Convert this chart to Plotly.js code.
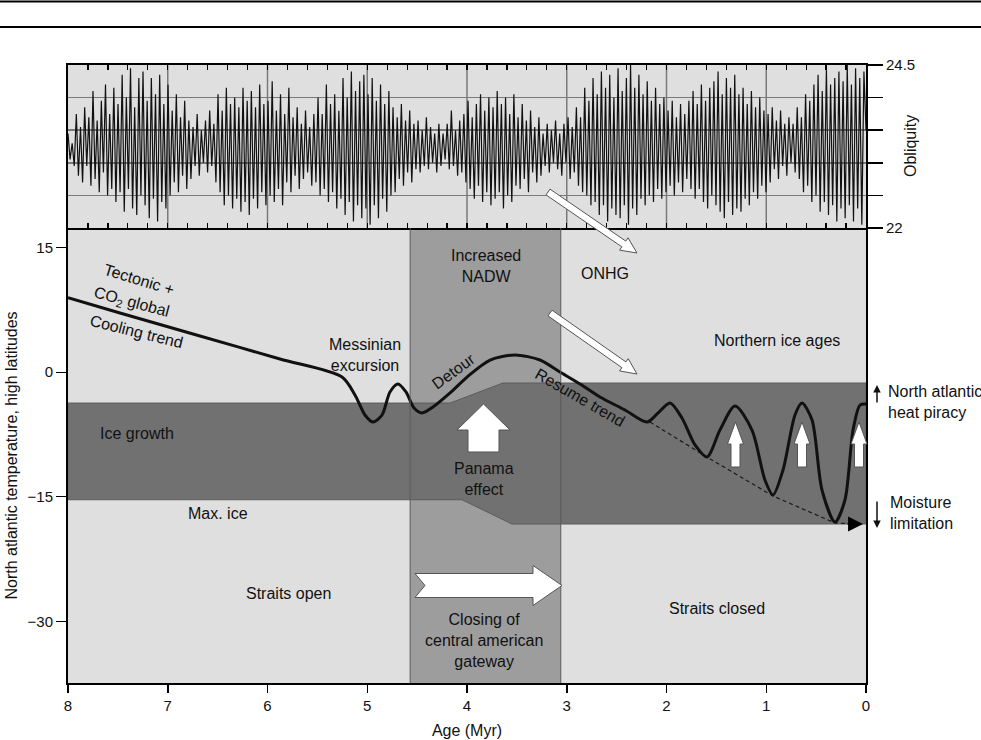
<!DOCTYPE html>
<html><head><meta charset="utf-8">
<script src="https://cdn.plot.ly/plotly-3.0.1.min.js"></script>
<style>html,body{margin:0;padding:0;background:#fff}#chart{width:981px;height:740px}</style>
</head><body><div id="chart"></div>
<script>
// ---------------- data ----------------
const ageTicks = [8,7,6,5,4,3,2,1,0];
const ageGrid = [7,6,5,4,3,2,1];
const tempTicks = [-30,-15,0,15];
const tempTickText = ['\u221230','\u221215','0','15'];
const obliqTicks = [22,22.5,23,23.5,24,24.5];
const obliqTickText = ['22','','','','','24.5'];
const obliqInnerTicks = [22.5,23,23.5,24];

// North Atlantic high-latitude temperature path (age in Myr)
const curveAge = [8.000,7.479,6.677,5.875,5.253,5.123,5.023,4.942,4.852,4.772,4.692,4.612,4.531,4.451,4.341,4.170,4.000,3.769,3.519,3.268,3.068,2.867,2.667,2.416,2.195,2.085,1.965,1.845,1.714,1.594,1.464,1.313,1.143,1.013,0.932,0.832,0.712,0.642,0.541,0.441,0.311,0.211,0.130,0.060,0.000];
const curveTemp = [8.96,7.13,4.36,1.59,-0.58,-2.74,-5.15,-6.00,-5.15,-2.38,-1.42,-2.38,-4.31,-4.91,-4.19,-2.50,-0.58,1.47,2.07,1.47,0.02,-1.42,-2.99,-4.55,-6.00,-4.91,-3.71,-5.51,-8.76,-10.21,-6.96,-4.07,-6.96,-12.98,-14.78,-11.77,-5.15,-3.71,-5.75,-14.18,-18.03,-15.38,-6.96,-3.95,-3.83];

// continued cooling trend (dashed)
const trendAge = [2.165,1.594,0.932,0.311,0.080];
const trendTemp = [-6.00,-10.21,-14.90,-18.15,-18.27];

// ice growth band (polygon)
const iceBandAge = [8, 4.17, 3.64, 0, 0, 3.55, 4.05, 8, 8];
const iceBandTemp = [-3.71, -3.71, -1.30, -1.30, -18.27, -18.27, -15.35, -15.35, -3.71];

// closing of central american gateway
const gatewayAge = [4.57, 3.06];

// obliquity: successive maxima / minima, 8 Myr -> 0 Myr
const obliquity = [
23.45,23.05,23.30,22.95,23.75,22.80,23.55,22.70,23.85,22.95,23.70,22.65,
24.10,22.75,23.65,22.55,23.95,22.85,24.20,22.50,23.75,22.60,24.15,22.40,
23.90,22.55,24.35,22.25,24.00,22.60,24.45,22.30,23.85,22.20,24.30,22.50,
24.40,22.35,23.95,22.15,24.30,22.45,24.05,22.10,24.35,22.40,23.90,22.30,
24.20,22.50,23.80,22.70,24.05,22.55,23.70,22.80,23.95,22.60,23.65,22.75,
23.55,22.95,23.75,22.80,23.50,23.00,23.65,22.85,23.80,22.95,23.60,22.70,
24.05,22.55,23.80,22.35,24.15,22.50,23.90,22.30,24.00,22.45,23.85,22.25,
24.15,22.40,23.95,22.20,24.10,22.45,23.85,22.30,24.20,22.55,23.90,22.35,
23.95,22.50,24.25,22.40,23.80,22.60,24.05,22.35,23.75,22.70,24.15,22.55,
23.70,22.80,23.85,22.60,23.60,22.75,23.80,22.85,23.55,22.65,23.75,22.70,
24.00,22.50,23.75,22.60,24.20,22.40,23.90,22.55,24.05,22.30,23.80,22.45,
24.30,22.20,24.00,22.40,24.40,22.10,24.10,22.35,24.25,22.15,24.35,22.30,
24.05,22.05,24.30,22.35,23.95,22.15,24.20,22.45,23.90,22.25,24.10,22.50,
23.85,22.55,23.70,22.75,23.90,22.65,23.65,22.85,23.80,22.70,23.60,22.90,
23.65,22.85,23.50,22.95,23.70,22.90,23.55,23.00,23.45,22.85,23.60,22.95,
23.45,23.05,23.60,22.90,23.80,22.95,23.50,22.80,23.65,22.85,23.75,22.70,
23.95,22.60,23.70,22.45,23.90,22.65,24.05,22.40,23.80,22.55,24.00,22.35,
23.85,22.45,24.10,22.55,23.90,22.30,24.00,22.50,23.75,22.40,24.05,22.65,
23.70,22.60,23.90,22.75,23.65,22.55,23.80,22.85,23.55,22.70,23.70,22.80,
23.45,22.95,23.60,22.85,23.50,23.00,23.65,22.90,23.45,22.80,23.60,23.00,
23.70,22.75,23.55,22.85,23.85,22.65,23.70,22.55,24.15,22.50,23.95,22.35,
24.30,22.40,24.05,22.20,24.40,22.35,24.15,22.10,24.35,22.30,24.00,22.20,
24.45,22.15,24.10,22.35,24.30,22.05,24.50,22.30,24.15,22.20,24.35,22.45,
24.05,22.35,24.25,22.50,23.95,22.40,24.15,22.60,23.90,22.45,24.00,22.55,
23.80,22.65,23.95,22.50,23.70,22.70,23.90,22.55,23.75,22.75,23.95,22.60,
24.10,22.45,23.90,22.60,24.20,22.40,23.95,22.30,24.15,22.50,24.25,22.35,
24.40,22.25,24.05,22.15,24.30,22.40,24.15,22.20,24.35,22.30,24.05,22.25,
24.15,22.45,23.90,22.35,24.10,22.55,23.85,22.45,24.00,22.65,23.80,22.55,
23.75,22.70,23.85,22.90,23.65,22.75,23.80,22.95,23.60,22.80,23.70,23.00,
23.60,22.85,23.85,22.75,23.70,22.55,24.05,22.65,23.95,22.40,24.20,22.50,
24.35,22.25,24.10,22.40,24.45,22.20,24.20,22.35,24.30,22.10,24.40,22.30,
24.25,22.15,24.50,22.35,24.20,22.10,24.45,22.30,24.30,22.05,24.40,23.50
];
// sampling grid of the obliquity record: evenly spaced ages from 8 to 0 Myr
const obliqAge = obliquity.map((_, i) => 8 - 8 * i / (obliquity.length - 1));

// ---------------- layout helpers ----------------
const W = 981, H = 740, L = 68, R = 866, T = 65, B = 683;
const SPLIT = (228 - T) / (B - T);
const px = x => (x - L) / (R - L);
const py = y => (B - y) / (B - T);
const FONT = 'Liberation Sans, Arial, Helvetica, sans-serif';

function arrowPath(tail, tip, sh, hh, hl, notch) {
  const dx = tip[0] - tail[0], dy = tip[1] - tail[1];
  const len = Math.hypot(dx, dy), ux = dx / len, uy = dy / len, nx = -uy, ny = ux;
  const bx = tip[0] - ux * hl, by = tip[1] - uy * hl;
  const pts = [
    [tail[0] + nx * sh, tail[1] + ny * sh],
    [bx + nx * sh, by + ny * sh],
    [bx + nx * hh, by + ny * hh],
    tip,
    [bx - nx * hh, by - ny * hh],
    [bx - nx * sh, by - ny * sh],
    [tail[0] - nx * sh, tail[1] - ny * sh]];
  if (notch) pts.push([tail[0] + ux * notch, tail[1] + uy * notch]);
  return 'M' + pts.map(p => px(p[0]).toFixed(5) + ',' + py(p[1]).toFixed(5)).join('L') + 'Z';
}
const whiteArrow = d => ({type: 'path', xref: 'paper', yref: 'paper', path: d,
  fillcolor: '#ffffff', line: {color: '#555', width: 1}, layer: 'above'});

// ---------------- traces ----------------
const traces = [
  {x: obliqAge, y: obliquity, xaxis: 'x2', yaxis: 'y2', type: 'scatter', mode: 'lines',
   line: {color: '#111', width: 1.2}, hoverinfo: 'skip', showlegend: false},
  {x: iceBandAge, y: iceBandTemp, xaxis: 'x', yaxis: 'y', type: 'scatter', mode: 'lines',
   fill: 'toself', fillcolor: '#717171', line: {color: '#5c5c5c', width: 1}, hoverinfo: 'skip', showlegend: false},
  {x: trendAge, y: trendTemp, xaxis: 'x', yaxis: 'y', type: 'scatter', mode: 'lines',
   line: {color: '#1a1a1a', width: 1.2, dash: '4px,3px'}, hoverinfo: 'skip', showlegend: false},
  {x: curveAge, y: curveTemp, xaxis: 'x', yaxis: 'y', type: 'scatter', mode: 'lines',
   line: {color: '#111', width: 3, shape: 'spline', smoothing: 0.8}, hoverinfo: 'skip', showlegend: false}
];

// ---------------- shapes ----------------
const shapes = [
  {type: 'rect', xref: 'x', yref: 'y domain', x0: gatewayAge[0], x1: gatewayAge[1], y0: 0, y1: 1,
   fillcolor: '#9d9d9d', line: {width: 0}, layer: 'below'},
  {type: 'line', xref: 'x', yref: 'y domain', x0: gatewayAge[0], x1: gatewayAge[0], y0: 0, y1: 1,
   line: {color: '#5a5a5a', width: 1}, layer: 'above'},
  {type: 'line', xref: 'x', yref: 'y domain', x0: gatewayAge[1], x1: gatewayAge[1], y0: 0, y1: 1,
   line: {color: '#5a5a5a', width: 1}, layer: 'above'},
  // page header rules
  {type: 'line', xref: 'paper', yref: 'paper', x0: px(0), x1: px(W), y0: py(1.5), y1: py(1.5), line: {color: '#000', width: 2}},
  {type: 'line', xref: 'paper', yref: 'paper', x0: px(0), x1: px(W), y0: py(27), y1: py(27), line: {color: '#000', width: 2}},
  // arrows
  whiteArrow(arrowPath([483.5, 452], [483.5, 404], 15.5, 26.5, 26)),
  whiteArrow(arrowPath([735.5, 467], [735.5, 422], 4.5, 8, 22)),
  whiteArrow(arrowPath([802, 467], [802, 422], 4.5, 8, 22)),
  whiteArrow(arrowPath([859, 467], [859, 422], 4.5, 8, 22)),
  whiteArrow(arrowPath([415, 585.5], [562, 585.5], 12, 20, 29, 10)),
  whiteArrow(arrowPath([548, 192], [637, 253], 3.5, 7.5, 16)),
  whiteArrow(arrowPath([550, 313], [637, 374], 3.5, 7.5, 16))
];
// vertical grid of the obliquity panel, one per Myr
ageGrid.forEach(a => shapes.push({type: 'line', xref: 'x2', yref: 'y2 domain', x0: a, x1: a, y0: 0, y1: 1,
  line: {color: '#7a7a7a', width: 1.5}, layer: 'below'}));

// ---------------- annotations ----------------
const txt = (t, x, y, a, xanchor) => ({text: t, xref: 'paper', yref: 'paper', x: px(x), y: py(y),
  xanchor: xanchor || 'center', align: xanchor || 'center', yanchor: 'middle', showarrow: false, textangle: a || 0,
  font: {family: FONT, size: 16, color: '#111'}});
const annotations = [
  txt('Tectonic +', 139, 279, 17),
  txt('CO<sub>2</sub> global', 131, 302, 15),
  txt('Cooling trend', 136, 331, 14),
  txt('Messinian<br>excursion', 365, 355),
  txt('Ice growth', 137, 433),
  txt('Increased<br>NADW', 486, 266),
  txt('ONHG', 605, 273),
  txt('Detour', 453, 371, -36),
  txt('Resume trend', 580, 397, 30),
  txt('Panama<br>effect', 484, 479),
  txt('Northern ice ages', 777, 340),
  txt('Max. ice', 218, 513),
  txt('Straits open', 288, 593),
  txt('Closing of<br>central american<br>gateway', 484, 640),
  txt('Straits closed', 717, 608),
  txt('North atlantic<br>heat piracy', 886, 402, 0, 'left'),
  txt('Moisture<br>limitation', 888, 513, 0, 'left'),
  txt('Obliquity', 910, 146, -90),
  // small black arrows on the right
  {x: px(877), y: py(385), xref: 'paper', yref: 'paper', ax: 0, ay: 19, text: '', showarrow: true,
   arrowhead: 2, arrowsize: 1, arrowwidth: 1.5, arrowcolor: '#111'},
  {x: px(877), y: py(528), xref: 'paper', yref: 'paper', ax: 0, ay: -28, text: '', showarrow: true,
   arrowhead: 2, arrowsize: 1, arrowwidth: 1.5, arrowcolor: '#111'},
  // arrowhead closing the dashed trend
  {x: 0.03, y: trendTemp[trendTemp.length - 1], xref: 'x', yref: 'y', axref: 'x', ayref: 'y',
   ax: 0.2, ay: trendTemp[trendTemp.length - 1], text: '', showarrow: true,
   arrowhead: 2, arrowsize: 2.3, arrowwidth: 1.3, arrowcolor: '#000', standoff: 0}
];

// ---------------- layout ----------------
const layout = {
  width: W, height: H,
  margin: {l: L, r: W - R, t: T, b: H - B, pad: 0},
  paper_bgcolor: '#ffffff', plot_bgcolor: '#dfdfdf',
  font: {family: FONT, size: 15, color: '#111'},
  showlegend: false,
  xaxis: {domain: [0, 1], anchor: 'y', range: [8, 0], tickvals: ageTicks,
          ticks: 'outside', ticklen: 8, tickwidth: 1.5, tickcolor: '#000',
          showline: true, linecolor: '#000', linewidth: 2, mirror: false,
          showgrid: false, zeroline: false,
          tickfont: {family: FONT, size: 15, color: '#111'},
          title: {text: 'Age (Myr)', font: {family: FONT, size: 16, color: '#111'}, standoff: 12}},
  yaxis: {domain: [0, 1 - SPLIT], anchor: 'x', range: [-37.41, 17.36],
          tickvals: tempTicks, ticktext: tempTickText,
          ticks: 'outside', ticklen: 10, tickwidth: 1.2, tickcolor: '#000',
          showline: true, linecolor: '#000', linewidth: 2, mirror: true,
          showgrid: false, zeroline: false,
          tickfont: {family: FONT, size: 15, color: '#111'},
          title: {text: 'North atlantic temperature, high latitudes', font: {family: FONT, size: 16, color: '#111'}, standoff: 6}},
  xaxis2: {domain: [0, 1], anchor: 'y2', matches: 'x', range: [8, 0],
           tickmode: 'linear', tick0: 0, dtick: 0.2, ticks: 'inside', ticklen: 5, tickwidth: 1.2, tickcolor: '#000',
           showticklabels: false, showgrid: false,
           showline: true, linecolor: '#000', linewidth: 2, mirror: 'allticks', zeroline: false},
  yaxis2: {domain: [1 - SPLIT, 1], anchor: 'x2', side: 'right', range: [22, 24.5],
           tickvals: obliqTicks, ticktext: obliqTickText,
           ticks: 'outside', ticklen: 15, tickwidth: 1.5, tickcolor: '#000',
           showgrid: true, gridcolor: '#7a7a7a', gridwidth: 1.5,
           showline: true, linecolor: '#000', linewidth: 2, mirror: true, zeroline: false,
           tickfont: {family: FONT, size: 15, color: '#111'}},
  yaxis3: {overlaying: 'y2', anchor: 'x2', side: 'left', range: [22, 24.5],
           tickvals: obliqInnerTicks, ticks: 'outside', ticklen: 17, tickwidth: 1.5, tickcolor: '#000',
           showticklabels: false, showgrid: false, showline: false, zeroline: false},
  shapes: shapes,
  annotations: annotations
};

Plotly.newPlot('chart', traces, layout, {displayModeBar: false, staticPlot: true});
</script>
</body></html>
